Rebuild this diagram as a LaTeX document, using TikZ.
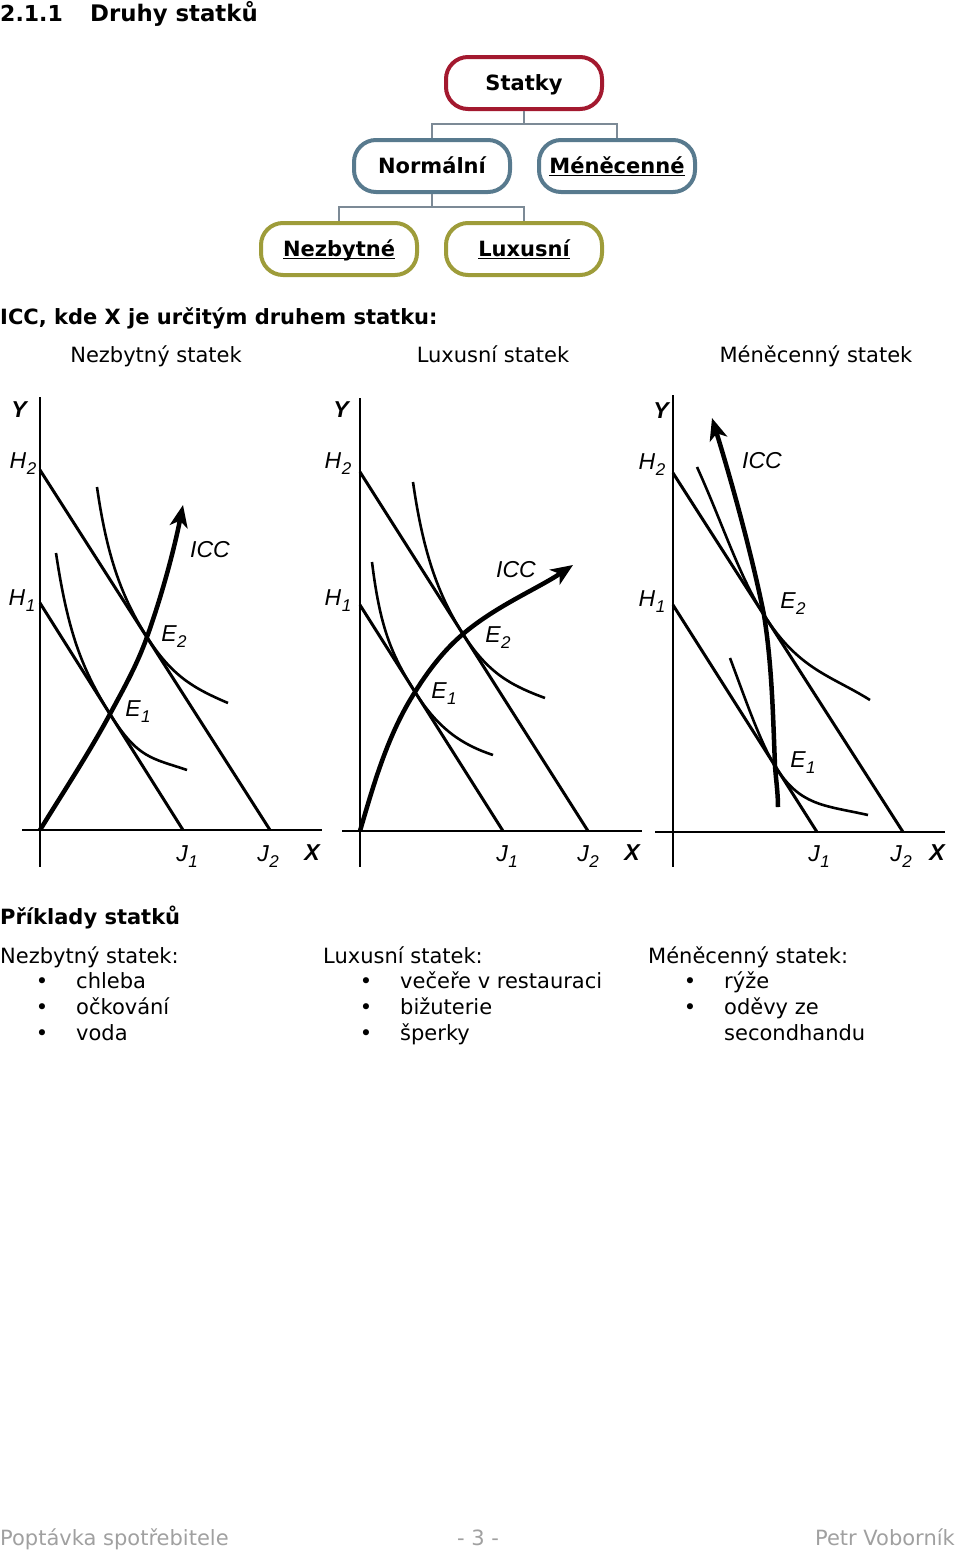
\documentclass[tikz,border=0pt]{standalone}
\usepackage{fontspec}
\setmainfont{DejaVu Sans}
\newfontfamily\grffont{Liberation Sans}
\usetikzlibrary{arrows.meta}

\definecolor{redline}{HTML}{A3192F}
\definecolor{blueline}{HTML}{587A8E}
\definecolor{oliveline}{HTML}{9E9C3A}
\definecolor{linkgray}{HTML}{7C8A96}
\definecolor{footgray}{HTML}{A0A0A0}

% label with a subscript (H_1, J_2, E_1 ...)
\newcommand{\gl}[2]{#1\kern.5pt\raisebox{-6pt}{\fontsize{17}{17}\selectfont #2}}
% underline at the same height, with or without descenders
\newcommand{\podtrh}[1]{\underline{\smash{#1}}}

\tikzset{
  kat/.style={draw=#1, line width=4pt, rounded corners=22pt, minimum width=156pt,
    minimum height=52pt, fill=white, text height=15pt, text depth=0pt,
    font=\bfseries\fontsize{21}{25}\selectfont},
  txt/.style={inner sep=0pt, text height=15pt, text depth=0pt, font=\fontsize{21}{25}\selectfont},
  btxt/.style={txt, font=\bfseries\fontsize{21}{25}\selectfont},
  lbl/.style={inner sep=0pt, font=\grffont\itshape\fontsize{23}{27}\selectfont},
  osalbl/.style={inner sep=0pt, font=\grffont\bfseries\itshape\fontsize{23}{27}\selectfont},
  osa/.style={line width=1.5pt},
  rozp/.style={line width=3pt},
  ind/.style={line width=2.6pt},
  icc/.style={line width=4.5pt},
  tip/.style={-{Stealth[length=22pt,width=18pt,inset=6pt]}},
}

\begin{document}
\begin{tikzpicture}[x=1pt, y=-1pt]
  \useasboundingbox (0,0) rectangle (960,1551);

  % headings
  \node[btxt, anchor=west, font=\bfseries\fontsize{22}{26}\selectfont] (cislo) at (0,14) {2.1.1};
  \node[btxt, anchor=west, font=\bfseries\fontsize{22.8}{26}\selectfont] (nadpis) at (90,14) {Druhy statků};

  % tree of goods
  \node[kat=redline] (stat) at (524,83) {Statky};
  \node[kat=blueline] (norm) at (432,166) {Normální};
  \node[kat=blueline] (mene) at (617,166) {\podtrh{Méněcenné}};
  \node[kat=oliveline] (nezb) at (339,249) {\podtrh{Nezbytné}};
  \node[kat=oliveline] (luxu) at (524,249) {\podtrh{Luxusní}};
  \draw[linkgray, line width=1.5pt] (stat.south) -- ++(0,13) -| (norm.north);
  \draw[linkgray, line width=1.5pt] (stat.south) -- ++(0,13) -| (mene.north);
  \draw[linkgray, line width=1.5pt] (norm.south) -- ++(0,13) -| (nezb.north);
  \draw[linkgray, line width=1.5pt] (norm.south) -- ++(0,13) -| (luxu.north);

  \node[btxt, anchor=west] (iccnadpis) at (0,317) {ICC, kde X je určitým druhem statku:};
  \node[txt] (tit-a) at (156,355) {Nezbytný statek};
  \node[txt] (tit-b) at (493,355) {Luxusní statek};
  \node[txt] (tit-c) at (816,355) {Méněcenný statek};

  % graph a -- nezbytny statek
  \coordinate (a-O) at (40,830);
  \coordinate (a-H2) at (40,470);  \coordinate (a-J2) at (270,830);
  \coordinate (a-H1) at (40,603);  \coordinate (a-J1) at (183,830);
  \coordinate (a-E1) at (110,714); \coordinate (a-E2) at (147,637);
  \coordinate (a-T) at (183,505);
  \draw[osa] (40,397) -- (40,867);
  \draw[osa] (22,830) -- (322,830);
  \draw[rozp] (a-H2) -- (a-J2);
  \draw[rozp] (a-H1) -- (a-J1);
  \draw[ind] (56,553) .. controls +(12,80) and +(-28,-45) .. (a-E1)
    .. controls +(28,45) and +(-35,-12) .. (187,770);
  \draw[ind] (97,487) .. controls +(10,70) and +(-25,-39) .. (a-E2)
    .. controls +(25,39) and +(-35,-15) .. (228,703);
  \draw[icc, tip] (a-O) .. controls +(24,-39) and +(-21,39) .. (a-E1)
    .. controls +(14,-26) and +(-10,28) .. (a-E2)
    .. controls +(15,-42) and +(-9,45) .. (a-T);
  \node[osalbl] (a-Y) at (19,410) {Y};
  \node[lbl] (a-lH2) at (23,464) {\gl{H}{2}};
  \node[lbl] (a-lH1) at (22,601) {\gl{H}{1}};
  \node[lbl] (a-icc) at (210,550) {ICC};
  \node[lbl] (a-lE2) at (174,637) {\gl{E}{2}};
  \node[lbl] (a-lE1) at (138,712) {\gl{E}{1}};
  \node[lbl] (a-lJ1) at (187,857) {\gl{J}{1}};
  \node[lbl] (a-lJ2) at (268,857) {\gl{J}{2}};
  \node[osalbl] (a-X) at (312,853) {X};

  % graph b -- luxusni statek
  \coordinate (b-O) at (360,831);
  \coordinate (b-H2) at (360,472); \coordinate (b-J2) at (588,831);
  \coordinate (b-H1) at (360,605); \coordinate (b-J1) at (503,831);
  \coordinate (b-E1) at (415,692); \coordinate (b-E2) at (463,634);
  \coordinate (b-T) at (573,565);
  \draw[osa] (360,398) -- (360,867);
  \draw[osa] (342,831) -- (642,831);
  \draw[rozp] (b-H2) -- (b-J2);
  \draw[rozp] (b-H1) -- (b-J1);
  \draw[ind] (372,562) .. controls +(8,65) and +(-24,-38) .. (b-E1)
    .. controls +(24,38) and +(-30,-10) .. (493,755);
  \draw[ind] (413,482) .. controls +(10,70) and +(-25,-39) .. (b-E2)
    .. controls +(25,39) and +(-35,-13) .. (545,698);
  \draw[icc, tip] (b-O) .. controls +(14,-48) and +(-27,42) .. (b-E1)
    .. controls +(13,-21) and +(-19,16) .. (b-E2)
    .. controls +(33,-28) and +(-36,24) .. (b-T);
  \node[osalbl] (b-Y) at (341,410) {Y};
  \node[lbl] (b-lH2) at (338,464) {\gl{H}{2}};
  \node[lbl] (b-lH1) at (338,601) {\gl{H}{1}};
  \node[lbl] (b-icc) at (516,570) {ICC};
  \node[lbl] (b-lE2) at (498,638) {\gl{E}{2}};
  \node[lbl] (b-lE1) at (444,694) {\gl{E}{1}};
  \node[lbl] (b-lJ1) at (507,857) {\gl{J}{1}};
  \node[lbl] (b-lJ2) at (588,857) {\gl{J}{2}};
  \node[osalbl] (b-X) at (632,853) {X};

  % graph c -- menecenny statek
  \coordinate (c-H2) at (673,473); \coordinate (c-J2) at (903,832);
  \coordinate (c-H1) at (673,605); \coordinate (c-J1) at (817,832);
  \coordinate (c-E1) at (775,766); \coordinate (c-E2) at (764,615);
  \coordinate (c-B) at (778,807);  \coordinate (c-T) at (712,418);
  \draw[osa] (673,395) -- (673,867);
  \draw[osa] (655,832) -- (945,832);
  \draw[rozp] (c-H2) -- (c-J2);
  \draw[rozp] (c-H1) -- (c-J1);
  \draw[ind] (697,467) .. controls +(25,55) and +(-25,-39) .. (c-E2)
    .. controls +(35,55) and +(-40,-25) .. (870,700);
  \draw[ind] (730,658) .. controls +(15,40) and +(-15,-24) .. (c-E1)
    .. controls +(25,40) and +(-45,-10) .. (868,815);
  \draw[icc, tip] (c-B) .. controls +(0,-14) and +(1,14) .. (c-E1)
    .. controls +(-2,-50) and +(8,50) .. (c-E2)
    .. controls +(-12,-60) and +(20,65) .. (c-T);
  \node[osalbl] (c-Y) at (661,411) {Y};
  \node[lbl] (c-lH2) at (652,465) {\gl{H}{2}};
  \node[lbl] (c-lH1) at (652,602) {\gl{H}{1}};
  \node[lbl] (c-icc) at (762,461) {ICC};
  \node[lbl] (c-lE2) at (793,604) {\gl{E}{2}};
  \node[lbl] (c-lE1) at (803,763) {\gl{E}{1}};
  \node[lbl] (c-lJ1) at (819,857) {\gl{J}{1}};
  \node[lbl] (c-lJ2) at (901,857) {\gl{J}{2}};
  \node[osalbl] (c-X) at (937,853) {X};

  % examples
  \node[btxt, anchor=west] (priklady) at (0,917) {Příklady statků};
  \node[txt, anchor=west] (sl-a) at (0,956) {Nezbytný statek:};
  \node[txt, anchor=west] (sl-b) at (323,956) {Luxusní statek:};
  \node[txt, anchor=west] (sl-c) at (648,956) {Méněcenný statek:};
  \foreach \y/\t [count=\i] in {981/chleba, 1007/očkování, 1033/voda} {
    \node[txt] (ba\i) at (42,\y) {\textbullet};
    \node[txt, anchor=west] (pa\i) at (76,\y) {\t};
  }
  \foreach \y/\t [count=\i] in {981/večeře v restauraci, 1007/bižuterie, 1033/šperky} {
    \node[txt] (bb\i) at (366,\y) {\textbullet};
    \node[txt, anchor=west] (pb\i) at (400,\y) {\t};
  }
  \foreach \y/\t [count=\i] in {981/rýže, 1007/oděvy ze} {
    \node[txt] (bc\i) at (690,\y) {\textbullet};
    \node[txt, anchor=west] (pc\i) at (724,\y) {\t};
  }
  \node[txt, anchor=west] (pc3) at (724,1033) {secondhandu};

  % footer
  \node[txt, anchor=west, text=footgray] (pata-l) at (0,1538) {Poptávka spotřebitele};
  \node[txt, text=footgray] (pata-s) at (478,1538) {- 3 -};
  \node[txt, anchor=east, text=footgray] (pata-p) at (955,1538) {Petr Voborník};
\end{tikzpicture}
\end{document}
